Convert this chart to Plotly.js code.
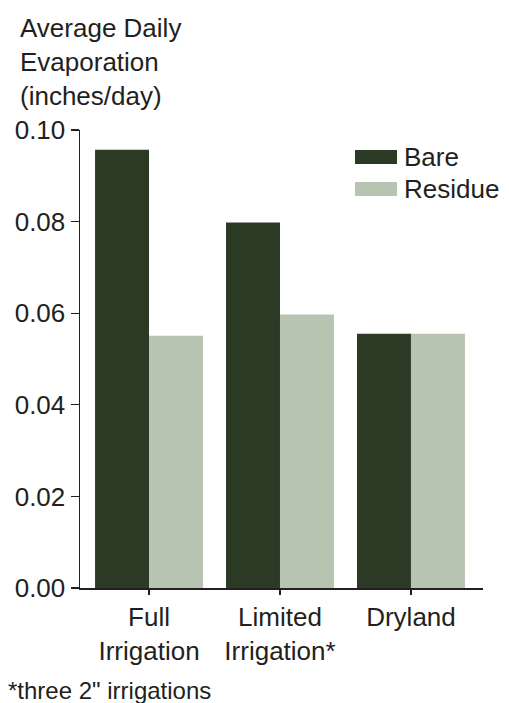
<!DOCTYPE html>
<html>
<head>
<meta charset="utf-8">
<script src="https://cdn.plot.ly/plotly-3.0.1.min.js"></script>
<style>html,body{margin:0;padding:0;background:#fff;}#chart{width:509px;height:703px;}</style>
</head>
<body>
<div id="chart"></div>
<script>
const categories = ["Full<br>Irrigation", "Limited<br>Irrigation*", "Dryland"];
const bareValues = [0.0957, 0.0798, 0.0555];
const residueValues = [0.0551, 0.0597, 0.0555];
const seriesNames = ["Bare", "Residue"];
const yTickValues = [0, 0.02, 0.04, 0.06, 0.08, 0.10];
const yTickLabels = ["0.00", "0.02", "0.04", "0.06", "0.08", "0.10"];
const titleText = "Average Daily<br>Evaporation<br>(inches/day)";
const footnoteText = "*three 2\" irrigations";

const W = 509, H = 703;
const M = {l: 80, r: 26, t: 130, b: 115};
const PW = W - M.l - M.r, PH = H - M.t - M.b;
const px = x => (x - M.l) / PW;
const py = y => (H - M.b - y) / PH;

const colors = ["#2a3a24", "#b7c4b1"];
const ink = "#231f20";
const FONT = "Liberation Sans, Arial, Helvetica, sans-serif";
const FS = 26;

const traces = [
  {type: "bar", name: seriesNames[0], x: categories, y: bareValues, marker: {color: colors[0], line: {width: 0}}, showlegend: false, hoverinfo: "skip"},
  {type: "bar", name: seriesNames[1], x: categories, y: residueValues, marker: {color: colors[1], line: {width: 0}}, showlegend: false, hoverinfo: "skip"}
];

const legendShapes = [];
const legendAnns = [];
const legendY = [157, 189];
seriesNames.forEach((n, i) => {
  legendShapes.push({type: "rect", xref: "paper", yref: "paper", x0: px(355), x1: px(397), y0: py(legendY[i] - 7), y1: py(legendY[i] + 7), fillcolor: colors[i], line: {width: 0}});
  legendAnns.push({xref: "paper", yref: "paper", x: px(402), y: py(legendY[i]), xanchor: "left", yanchor: "middle", showarrow: false, text: n, font: {family: FONT, size: FS, color: ink}});
});

const layout = {
  width: W, height: H,
  margin: M,
  paper_bgcolor: "#fff", plot_bgcolor: "#fff",
  font: {family: FONT, size: FS, color: ink},
  barmode: "group",
  bargap: 0.176,
  bargroupgap: 0,
  showlegend: false,
  xaxis: {
    type: "category",
    range: [-0.527, 2.55],
    showline: true, linecolor: ink, linewidth: 1.5,
    ticks: "outside", ticklen: 5, tickwidth: 1.2, tickcolor: ink,
    showgrid: false, zeroline: false,
    tickfont: {family: FONT, size: FS, color: ink},
    fixedrange: true
  },
  yaxis: {
    range: [0, 0.1],
    tickvals: yTickValues, ticktext: yTickLabels,
    showline: true, linecolor: ink, linewidth: 1.5,
    ticks: "outside", ticklen: 8, tickwidth: 1.2, tickcolor: ink,
    showgrid: false, zeroline: false,
    tickfont: {family: FONT, size: FS, color: ink},
    fixedrange: true
  },
  shapes: legendShapes,
  annotations: legendAnns.concat([
    {xref: "paper", yref: "paper", x: px(18), y: py(11), xanchor: "left", yanchor: "top", align: "left", showarrow: false, text: titleText, font: {family: FONT, size: FS, color: ink}},
    {xref: "paper", yref: "paper", x: px(6), y: py(690), xanchor: "left", yanchor: "middle", showarrow: false, text: footnoteText, font: {family: FONT, size: 24, color: ink}}
  ])
};

Plotly.newPlot("chart", traces, layout, {displayModeBar: false, staticPlot: true});
</script>
</body>
</html>
